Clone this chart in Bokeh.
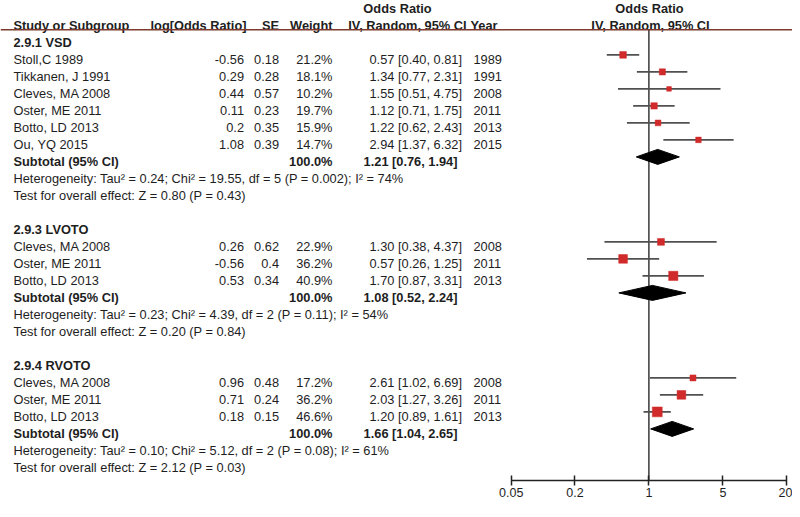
import math
from bokeh.plotting import figure
from bokeh.models import (Range1d, LogScale, LogAxis, FixedTicker,
                          CustomJSTickFormatter, Span, ColumnDataSource)
from bokeh.core.properties import value
from bokeh.embed import file_html
from bokeh.resources import INLINE

# ---------------- data ----------------
group_titles = ["2.9.1 VSD", "2.9.3 LVOTO", "2.9.4 RVOTO"]

vsd_names = ["Stoll,C 1989", "Tikkanen, J  1991", "Cleves, MA  2008",
             "Oster, ME 2011", "Botto, LD  2013", "Ou, YQ  2015"]
vsd_log = [-0.56, 0.29, 0.44, 0.11, 0.2, 1.08]
vsd_se = [0.18, 0.28, 0.57, 0.23, 0.35, 0.39]
vsd_w = [21.2, 18.1, 10.2, 19.7, 15.9, 14.7]
vsd_or = [0.57, 1.34, 1.55, 1.12, 1.22, 2.94]
vsd_lo = [0.40, 0.77, 0.51, 0.71, 0.62, 1.37]
vsd_hi = [0.81, 2.31, 4.75, 1.75, 2.43, 6.32]
vsd_year = [1989, 1991, 2008, 2011, 2013, 2015]

lv_names = ["Cleves, MA  2008", "Oster, ME 2011", "Botto, LD  2013"]
lv_log = [0.26, -0.56, 0.53]
lv_se = [0.62, 0.4, 0.34]
lv_w = [22.9, 36.2, 40.9]
lv_or = [1.30, 0.57, 1.70]
lv_lo = [0.38, 0.26, 0.87]
lv_hi = [4.37, 1.25, 3.31]
lv_year = [2008, 2011, 2013]

rv_names = ["Cleves, MA  2008", "Oster, ME 2011", "Botto, LD  2013"]
rv_log = [0.96, 0.71, 0.18]
rv_se = [0.48, 0.24, 0.15]
rv_w = [17.2, 36.2, 46.6]
rv_or = [2.61, 2.03, 1.20]
rv_lo = [1.02, 1.27, 0.89]
rv_hi = [6.69, 3.26, 1.61]
rv_year = [2008, 2011, 2013]

sub_w = [100.0, 100.0, 100.0]
sub_or = [1.21, 1.08, 1.66]
sub_lo = [0.76, 0.52, 1.04]
sub_hi = [1.94, 2.24, 2.65]
het_tau2 = [0.24, 0.23, 0.10]
het_chi2 = [19.55, 4.39, 5.12]
het_df = [5, 2, 2]
het_p = ["0.002", "0.11", "0.08"]
het_i2 = [74, 54, 61]
eff_z = [0.80, 0.20, 2.12]
eff_p = ["0.43", "0.84", "0.03"]

axis_ticks = [0.05, 0.2, 1, 5, 20]

headers = ["Study or Subgroup", "log[Odds Ratio]", "SE", "Weight",
           "IV, Random, 95% CI", "Year", "IV, Random, 95% CI"]
top_header = "Odds Ratio"

groups = [
    (vsd_names, vsd_log, vsd_se, vsd_w, vsd_or, vsd_lo, vsd_hi, vsd_year),
    (lv_names, lv_log, lv_se, lv_w, lv_or, lv_lo, lv_hi, lv_year),
    (rv_names, rv_log, rv_se, rv_w, rv_or, rv_lo, rv_hi, rv_year),
]

# ---------------- layout / style ----------------
FONT = "Liberation Sans"
FS = "12.8px"
TXT = "#1e1e1e"
BROWN = "#7d3b2f"
RED = "#d12a2a"
GREY = "#505050"

ROW_PX = 17.0          # pixel height of one table row
ROW0_PX = 20.4         # y of row 0 (marker line)
FRAME_H = 480
FRAME_W = 792
TXT_OFF = 4.3          # text sits a little lower than the marks

r_top = (0 - ROW0_PX) / ROW_PX
r_bot = r_top + FRAME_H / ROW_PX

ONE_PX = 648.4         # x of OR = 1
DEC_PX = 105.8         # pixels per decade

p = figure(frame_width=FRAME_W, frame_height=FRAME_H,
           x_range=Range1d(0, FRAME_W), y_range=Range1d(r_bot, r_top),
           output_backend="svg", toolbar_location=None,
           x_axis_location=None, y_axis_location=None, min_border=0,
           background_fill_color="white", border_fill_color="white")
p.outline_line_color = None
p.xgrid.grid_line_color = None
p.ygrid.grid_line_color = None

p.extra_x_ranges = {"or": Range1d(10 ** ((0 - ONE_PX) / DEC_PX),
                                  10 ** ((FRAME_W - ONE_PX) / DEC_PX))}
p.extra_x_scales = {"or": LogScale()}

ax = LogAxis(x_range_name="or", ticker=FixedTicker(ticks=axis_ticks),
             formatter=CustomJSTickFormatter(code="return tick.toString();"),
             bounds=(axis_ticks[0], axis_ticks[-1]))
ax.axis_line_width = 1.5
ax.axis_line_color = "#222222"
ax.major_tick_line_color = "#222222"
ax.major_tick_line_width = 1.5
ax.major_tick_in = 5
ax.major_tick_out = 5
ax.minor_tick_line_color = None
ax.major_label_text_font = FONT
ax.major_label_text_font_size = "12.5px"
ax.major_label_text_color = TXT
ax.major_label_standoff = 2
p.add_layout(ax, "below")

texts = {}


def add(x, y, t, align="left", bold=False, off=TXT_OFF):
    key = (align, bold, off)
    d = texts.setdefault(key, {"x": [], "y": [], "t": []})
    d["x"].append(x)
    d["y"].append(y)
    d["t"].append(t)


# column anchors (x)
X_NAME, X_LOG, X_SE, X_W, X_CI, X_YEAR = 13, 243.5, 278.5, 332, 461.5, 473
X_CI_SUB = 457

# header
HDR_LINE = (29.3 - ROW0_PX) / ROW_PX
add(X_NAME, 0, headers[0], "left", True)
add(246, 0, headers[1], "right", True)
add(X_SE, 0, headers[2], "right", True)
add(X_W, 0, headers[3], "right", True)
add(466, 0, headers[4], "right", True)
add(470, 0, headers[5], "left", True)
add(650, 0, headers[6], "center", True)
add(397, -1, top_header, "center", True)
add(649, -1, top_header, "center", True)

p.add_layout(Span(location=HDR_LINE, dimension="width", line_color=BROWN,
                  line_width=1.6))
p.segment(x0=[1], x1=[1], y0=[HDR_LINE], y1=[r_bot], x_range_name="or",
          line_color="#2a2a2a", line_width=1.4)

row = 1
mk = {"x": [], "y": [], "s": []}
wh = {"x0": [], "x1": [], "y": []}
dia_xs, dia_ys = [], []
for gi, (names, lg, se, w, orv, lo, hi, yr) in enumerate(groups):
    add(X_NAME, row, group_titles[gi], "left", True)
    row += 1
    for i in range(len(names)):
        add(X_NAME, row, names[i])
        add(X_LOG, row, f"{lg[i]:g}", "right")
        add(X_SE, row, f"{se[i]:g}", "right")
        add(X_W, row, f"{w[i]:.1f}%", "right")
        add(X_CI, row, f"{orv[i]:.2f} [{lo[i]:.2f}, {hi[i]:.2f}]", "right")
        add(X_YEAR, row, str(yr[i]))
        mk["x"].append(orv[i]); mk["y"].append(row)
        mk["s"].append(math.sqrt(w[i]) * 1.45)
        wh["x0"].append(lo[i]); wh["x1"].append(hi[i]); wh["y"].append(row)
        row += 1
    add(X_NAME, row, "Subtotal (95% CI)", "left", True)
    add(X_W, row, f"{sub_w[gi]:.1f}%", "right", True)
    add(X_CI_SUB, row, f"{sub_or[gi]:.2f} [{sub_lo[gi]:.2f}, {sub_hi[gi]:.2f}]",
        "right", True)
    h = 7.5 / ROW_PX
    dia_xs.append([sub_lo[gi], sub_or[gi], sub_hi[gi], sub_or[gi]])
    dia_ys.append([row, row - h, row, row + h])
    row += 1
    add(X_NAME, row, (f"Heterogeneity: Tau\u00b2 = {het_tau2[gi]:.2f}; "
                      f"Chi\u00b2 = {het_chi2[gi]:.2f}, df = {het_df[gi]} "
                      f"(P = {het_p[gi]}); I\u00b2 = {het_i2[gi]}%"))
    row += 1
    add(X_NAME, row, f"Test for overall effect: Z = {eff_z[gi]:.2f} (P = {eff_p[gi]})")
    row += 2

p.segment(x0="x0", x1="x1", y0="y", y1="y", source=ColumnDataSource(wh),
          x_range_name="or", line_color=GREY, line_width=1.6)
p.scatter(x="x", y="y", size="s", marker="square", source=ColumnDataSource(mk),
          x_range_name="or", fill_color=RED, line_color=RED, line_width=0.5)
p.patches(xs=dia_xs, ys=dia_ys, x_range_name="or", fill_color="black",
          line_color="black", line_width=1)

for (align, bold, off), d in texts.items():
    p.text(x="x", y="y", text="t", source=ColumnDataSource(d),
           text_align=align, text_baseline="middle", y_offset=off,
           text_font=value(FONT), text_font_size=FS, text_color=TXT,
           text_font_style="bold" if bold else "normal")

open("out.html", "w").write(file_html(p, INLINE))
